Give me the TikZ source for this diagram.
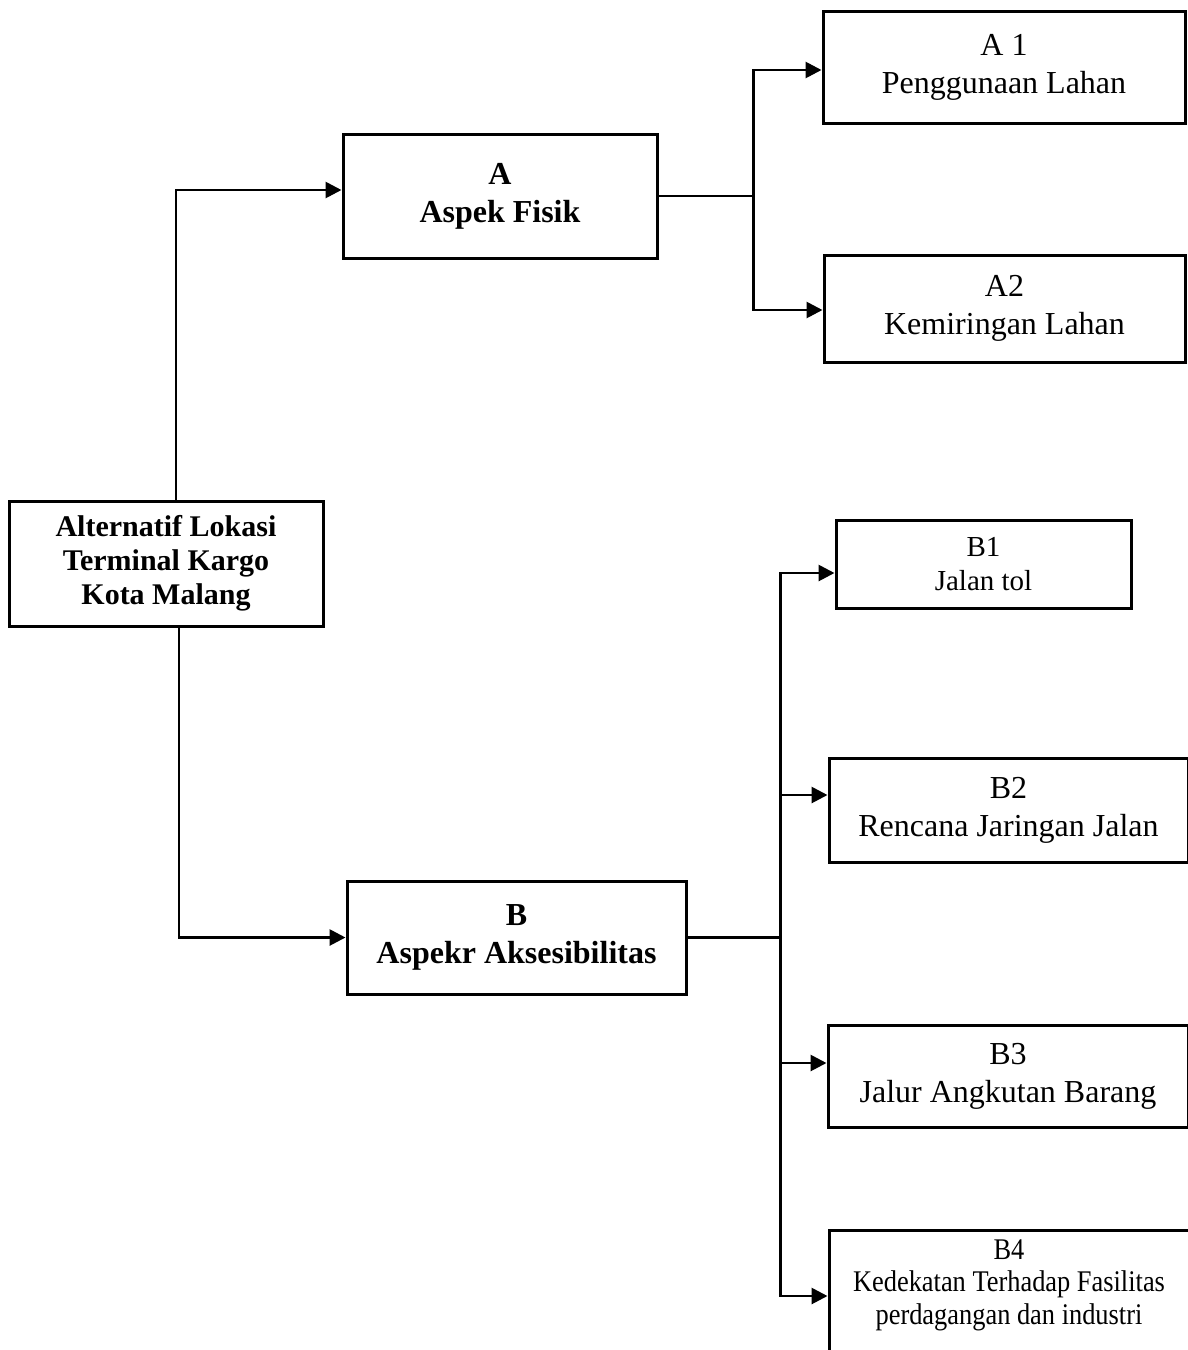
\documentclass[tikz,border=0pt]{standalone}
\usepackage{fontspec}
\setmainfont{Liberation Serif}
\usepackage{tikz}
\usetikzlibrary{arrows.meta, positioning}
\tikzstyle{kotak}=[draw,line width=1.5pt,align=center,inner sep=0pt]
\tikzstyle{tebal}=[font=\bfseries\fontsize{16}{19}\selectfont]
\tikzstyle{biasa}=[font=\fontsize{16}{19}\selectfont]
\tikzstyle{garis}=[line width=1.4pt]
\tikzstyle{panah}=[line width=1.4pt,-{Triangle[length=8pt,width=8pt]}]

\begin{document}
\begin{tikzpicture}[x=0.5pt,y=-0.5pt]
    \useasboundingbox (0,0) rectangle (1188,1350);
    \node[kotak,font=\bfseries\fontsize{15}{17}\selectfont,minimum width=157pt,minimum height=62.5pt] (root) at (166,563.5) {Alternatif Lokasi\\Terminal Kargo\\Kota Malang};
    \node[kotak,tebal,minimum width=157pt,minimum height=62pt] (A) at (500,196) {A\\Aspek Fisik};
    \node[kotak,tebal,minimum width=169.5pt,minimum height=56.5pt] (B) at (516.5,937.5) {B\\Aspekr Aksesibilitas};
    \foreach \n/\x/\y/\w/\h/\a/\b in {A1/1004/67/181/56/A 1/Penggunaan Lahan, A2/1004.5/308.5/180.5/53.5/A2/Kemiringan Lahan, B2/1008.5/810/179.5/52/B2/Rencana Jaringan Jalan, B3/1008/1076/180/51/B3/Jalur Angkutan Barang} {
        \node[kotak,biasa,minimum width=\w pt,minimum height=\h pt] (\n) at (\x,\y) {\a\\\b};}
    \node[kotak,font=\fontsize{14.5}{17}\selectfont,minimum width=147.5pt,minimum height=44pt] (B1) at (983.5,564) {B1\\Jalan tol};
    \node[kotak,minimum width=180pt,minimum height=70pt] (B4) at (1009,1300) {};
    \node[align=center,inner sep=0pt,font=\addfontfeature{FakeStretch=0.88}\fontsize{15}{16.3}\selectfont] (B4t) at (1009,1285) {B4\\Kedekatan Terhadap Fasilitas\\perdagangan dan industri};
    % dari akar ke A dan B
    \draw[panah] ([xshift=5pt]root.north) |- ([yshift=3pt]A.west);
    \draw[panah] ([xshift=6.5pt]root.south) |- (B.west);
    % cabang A
    \draw[garis] (A.east) -- ++(95,0) coordinate (ja);
    \foreach \n/\s in {A1/-1.5, A2/-0.75} \draw[panah] (ja) |- ([yshift=\s pt]\n.west);
    % cabang B
    \draw[garis] (B.east) -- ++(93,0) coordinate (jb);
    \foreach \n/\s in {B1/-4.5, B2/7.5, B3/6.5, B4/2} \draw[panah] (jb) |- ([yshift=\s pt]\n.west);
\end{tikzpicture}
\end{document}
